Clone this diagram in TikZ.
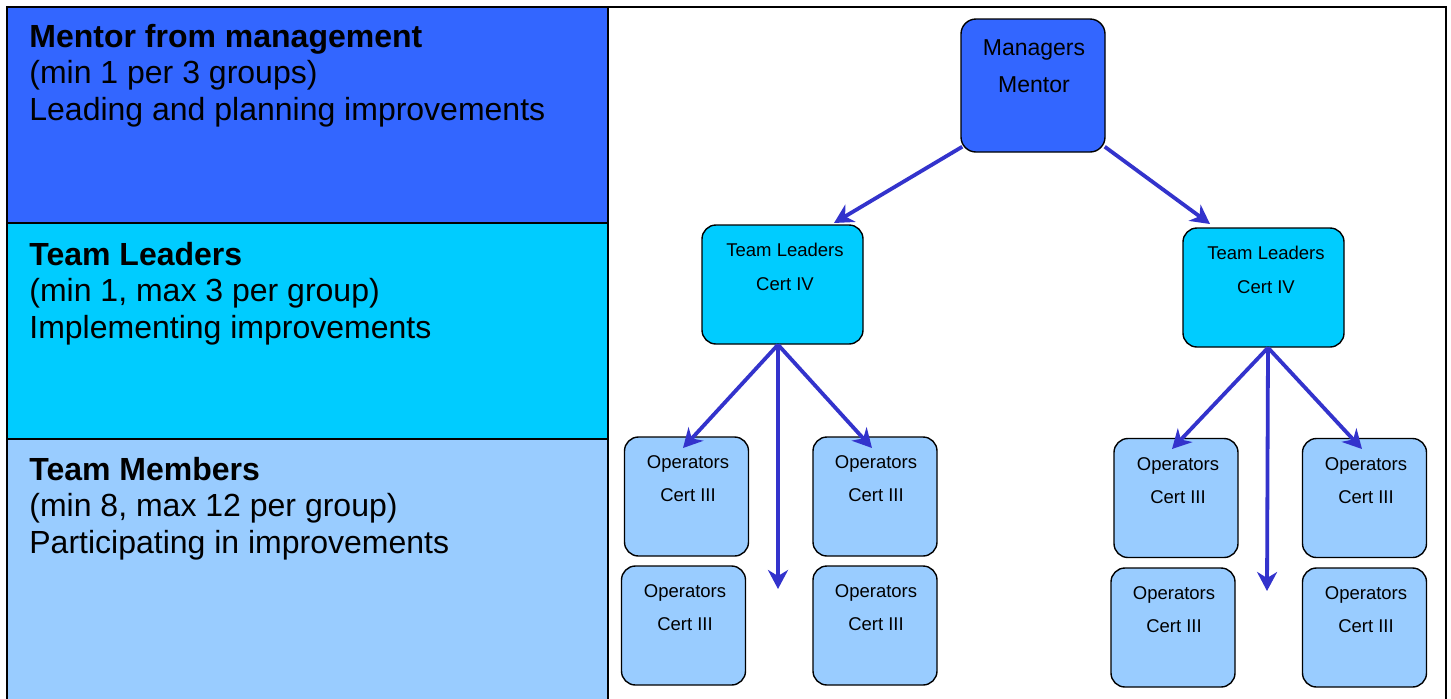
\documentclass[tikz,border=0pt]{standalone}
\usepackage{fontspec}
\setmainfont{Liberation Sans}
\usetikzlibrary{arrows.meta,calc}
\definecolor{mentorblue}{HTML}{3366FF}
\definecolor{leadcyan}{HTML}{00CCFF}
\definecolor{memberblue}{HTML}{99CCFF}
\definecolor{arrowblue}{HTML}{3333CC}
\tikzset{
  panel/.style={draw=black, line width=1pt},
  mgrbox/.style={draw=black, line width=0.7pt, fill=mentorblue, rounded corners=7.5pt, minimum width=72pt, minimum height=66.5pt, inner sep=0pt},
  tlbox/.style={draw=black, line width=0.7pt, fill=leadcyan, rounded corners=7pt, minimum width=80.5pt, minimum height=59.5pt, inner sep=0pt},
  opbox/.style={draw=black, line width=0.7pt, fill=memberblue, rounded corners=7pt, minimum width=62pt, minimum height=59.5pt, inner sep=0pt},
  paneltext/.style={anchor=base west, inner sep=0pt, font=\fontsize{16}{18.4}\selectfont},
  mgrtext/.style={anchor=base, inner sep=0pt, font=\fontsize{11.5}{18.5}\selectfont},
  smalltext/.style={anchor=base, inner sep=0pt, font=\fontsize{9.25}{16.75}\selectfont},
  arr/.style={draw=arrowblue, line width=1.9pt, -{Stealth[length=9.5pt, width=10pt, inset=3pt]}},
}
\begin{document}
\begin{tikzpicture}[x=0.5pt, y=-0.5pt]
\useasboundingbox (0,0) rectangle (1451,698);
\clip (0,0) rectangle (1451,698);
\fill[white] (0,0) rectangle (1451,698);
% left panels
\draw[panel, fill=mentorblue] (7,7) rectangle (608,223);
\draw[panel, fill=leadcyan] (7,223) rectangle (608,439);
\draw[panel, fill=memberblue] (7,439) rectangle (608,720);
% outer frame
\draw[panel] (7,7) rectangle (1446,720);
% panel texts
\node[paneltext] (ptm) at (29,47) {\begin{tabular}[t]{@{}l@{}}\textbf{Mentor from management}\\(min 1 per 3 groups)\\Leading and planning improvements\end{tabular}};
\node[paneltext] (ptl) at (29,265) {\begin{tabular}[t]{@{}l@{}}\textbf{Team Leaders}\\(min 1, max 3 per group)\\Implementing improvements\end{tabular}};
\node[paneltext] (ptt) at (29,480) {\begin{tabular}[t]{@{}l@{}}\textbf{Team Members}\\(min 8, max 12 per group)\\Participating in improvements\end{tabular}};
% boxes
\node[mgrbox] (mgr) at (1033,85.5) {};
\node[tlbox] (tll) at (782.5,284.5) {};
\node[tlbox] (tlr) at (1263.5,287.5) {};
\node[opbox] (a) at (686.5,496.5) {};
\node[opbox] (b) at (875,496.5) {};
\node[opbox] (c) at (683.5,625.5) {};
\node[opbox] (d) at (875,625.5) {};
\node[opbox] (e) at (1176,498) {};
\node[opbox] (f) at (1364.5,498) {};
\node[opbox] (g) at (1173,627.5) {};
\node[opbox] (h) at (1364.5,627.5) {};
% box texts
\node[mgrtext] (mgrt) at (1034,55) {\begin{tabular}[t]{@{}c@{}}Managers\\Mentor\end{tabular}};
\node[smalltext] (tllt) at (785,256) {\begin{tabular}[t]{@{}c@{}}Team Leaders\\[0.5pt]Cert IV\end{tabular}};
\node[smalltext] (tlrt) at (1266,259) {\begin{tabular}[t]{@{}c@{}}Team Leaders\\[0.5pt]Cert IV\end{tabular}};
\node[smalltext] (at) at (688,468) {\begin{tabular}[t]{@{}c@{}}Operators\\Cert III\end{tabular}};
\node[smalltext] (bt) at (876,468) {\begin{tabular}[t]{@{}c@{}}Operators\\Cert III\end{tabular}};
\node[smalltext] (ct) at (685,597) {\begin{tabular}[t]{@{}c@{}}Operators\\Cert III\end{tabular}};
\node[smalltext] (dt) at (876,597) {\begin{tabular}[t]{@{}c@{}}Operators\\Cert III\end{tabular}};
\node[smalltext] (et) at (1178,470) {\begin{tabular}[t]{@{}c@{}}Operators\\Cert III\end{tabular}};
\node[smalltext] (ft) at (1366,470) {\begin{tabular}[t]{@{}c@{}}Operators\\Cert III\end{tabular}};
\node[smalltext] (gt) at (1174,599) {\begin{tabular}[t]{@{}c@{}}Operators\\Cert III\end{tabular}};
\node[smalltext] (ht) at (1366,599) {\begin{tabular}[t]{@{}c@{}}Operators\\Cert III\end{tabular}};
% connector ends
\coordinate (m1) at ($(mgr.south west)+(2,-6)$);
\coordinate (m2) at ($(mgr.south east)+(-1,-6)$);
\coordinate (l0) at ($(tll.south)+(-4.5,0)$);
\coordinate (r0) at ($(tlr.south)+(4.5,0)$);
\coordinate (tipl) at (834,223);
\coordinate (tipr) at (1210,224);
\coordinate (tipa) at (683,448);
\coordinate (tipb) at (872,448);
\coordinate (tipld) at (778,589);
\coordinate (tipe) at (1172,449);
\coordinate (tipf) at (1362,449);
\coordinate (tiprd) at (1267,591);
% connectors
\draw[arr] (m1) -- (tipl);
\draw[arr] (m2) -- (tipr);
\draw[arr] (l0) -- (tipa);
\draw[arr] (l0) -- (tipb);
\draw[arr] (l0) -- (tipld);
\draw[arr] (r0) -- (tipe);
\draw[arr] (r0) -- (tipf);
\draw[arr] (r0) -- (tiprd);
\end{tikzpicture}
\end{document}
